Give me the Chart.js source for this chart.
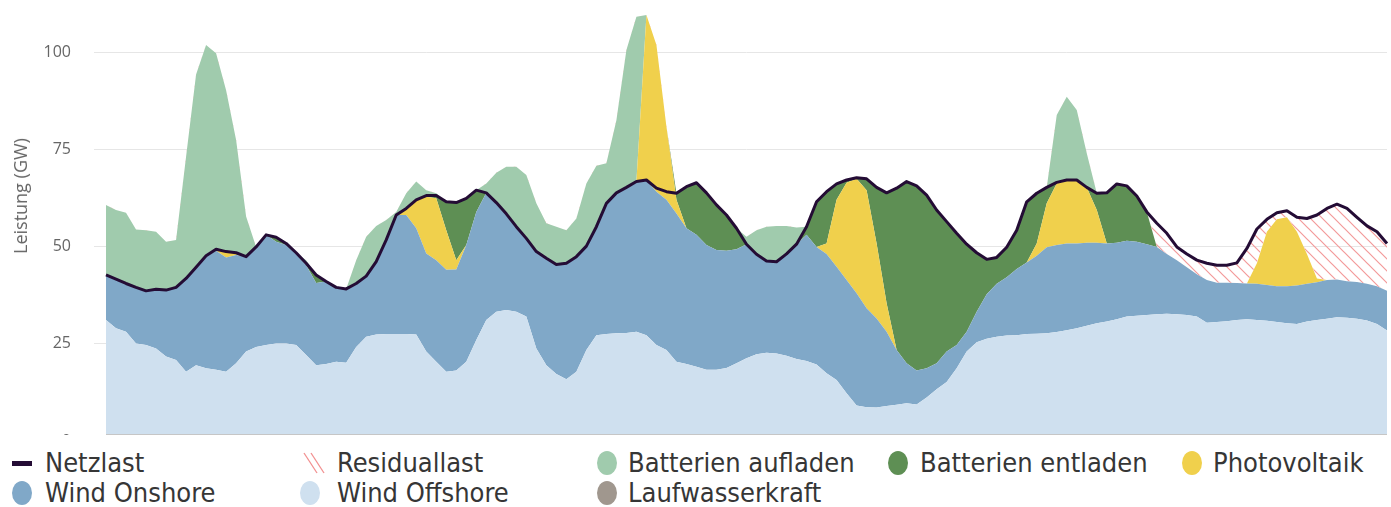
<!DOCTYPE html>
<html lang="de">
<head>
<meta charset="utf-8">
<title>Netzlast, Erzeugung und Batterien</title>
<script src="https://cdn.jsdelivr.net/npm/chart.js@4.4.1/dist/chart.umd.min.js"></script>
<style>
    html, body { margin: 0; padding: 0; background: #fff; }
    #wrap { position: relative; width: 1391px; height: 507px; overflow: hidden; background: #fff; }
    #chart-box { position: absolute; left: 0; top: 0; width: 1391px; height: 453px; }
    #y-title {
        position: absolute; left: 20px; top: 196px;
        transform: translate(-50%, -50%) rotate(-90deg);
        font: 18px "Open Sans", sans-serif; color: #666; white-space: nowrap;
    }
    #baseline { position: absolute; left: 106px; top: 434px; width: 1281px; height: 1px; background: #c6c6c6; }
    #legend {
        position: absolute; left: 0; top: 435px; width: 1391px; height: 72px; background: #fff;
        font-family: "DejaVu Sans Condensed", "DejaVu Sans", sans-serif; font-size: 27px; color: #363636;
    }
    .lg-text { position: absolute; line-height: 30px; white-space: nowrap; }
    .lg-icon { position: absolute; }
    .lg-dot { width: 20px; height: 24px; border-radius: 50%; }
</style>
</head>
<body>
<div id="wrap">
    <div id="chart-box"><canvas id="energie-chart" width="1391" height="453"></canvas></div>
    <div id="y-title">Leistung (GW)</div>
    <div id="baseline"></div>
    <div id="legend">
        <span class="lg-icon" style="left:12px; top:26px; width:20px; height:5px; background:#240c35;"></span>
        <span class="lg-text" style="left:45px; top:13px;">Netzlast</span>

        <svg class="lg-icon" style="left:302px; top:16px;" width="24" height="24" viewBox="0 0 24 24">
            <line x1="2" y1="2" x2="15" y2="22" stroke="#f29090" stroke-width="1.3"/>
            <line x1="9" y1="2" x2="22" y2="22" stroke="#f29090" stroke-width="1.3"/>
        </svg>
        <span class="lg-text" style="left:337px; top:13px;">Residuallast</span>

        <span class="lg-icon lg-dot" style="left:597px; top:16px; background:#a0cbad;"></span>
        <span class="lg-text" style="left:628px; top:13px;">Batterien aufladen</span>

        <span class="lg-icon lg-dot" style="left:888px; top:16px; background:#5e8f54;"></span>
        <span class="lg-text" style="left:920px; top:13px;">Batterien entladen</span>

        <span class="lg-icon lg-dot" style="left:1182px; top:16px; background:#f0d04c;"></span>
        <span class="lg-text" style="left:1213px; top:13px;">Photovoltaik</span>

        <span class="lg-icon lg-dot" style="left:12px; top:46px; background:#80a8c8;"></span>
        <span class="lg-text" style="left:45px; top:43px;">Wind Onshore</span>

        <span class="lg-icon lg-dot" style="left:300px; top:46px; background:#cfe0ef;"></span>
        <span class="lg-text" style="left:337px; top:43px;">Wind Offshore</span>

        <span class="lg-icon lg-dot" style="left:597px; top:46px; background:#a0978e;"></span>
        <span class="lg-text" style="left:628px; top:43px;">Laufwasserkraft</span>
    </div>
</div>

<script>
// Werte in GW (ein Wert pro Zeitschritt)
const windOffshore = [
    31.1, 29.0, 28.1, 25.1, 24.7, 23.8, 21.7, 20.8, 17.8, 19.5,
    18.7, 18.3, 17.8, 20.0, 23.0, 24.2, 24.7, 25.1, 25.1, 24.7,
    22.1, 19.5, 19.8, 20.4, 20.1, 24.2, 26.8, 27.4, 27.5, 27.5,
    27.5, 27.4, 23.0, 20.4, 17.8, 18.1, 20.4, 26.0, 31.1, 33.2,
    33.7, 33.2, 32.0, 23.8, 19.5, 17.2, 15.9, 17.8, 23.4, 27.2,
    27.5, 27.7, 27.8, 28.1, 27.2, 24.7, 23.4, 20.4, 19.8, 19.1,
    18.3, 18.3, 18.8, 20.0, 21.3, 22.3, 22.7, 22.5, 21.9, 21.1,
    20.6, 19.7, 17.4, 15.7, 12.3, 9.1, 8.7, 8.6, 9.0, 9.3,
    9.7, 9.4, 11.2, 13.3, 15.2, 18.7, 23.0, 25.4, 26.3, 26.8,
    27.1, 27.2, 27.5, 27.6, 27.7, 28.0, 28.5, 29.0, 29.6, 30.3,
    30.7, 31.3, 32.0, 32.2, 32.4, 32.6, 32.7, 32.6, 32.4, 32.0,
    30.4, 30.6, 30.8, 31.1, 31.3, 31.1, 30.9, 30.6, 30.3, 30.1,
    30.7, 31.1, 31.4, 31.8, 31.7, 31.4, 31.0, 30.1, 28.4
];

const windOnshore = [
    11.6, 12.6, 12.4, 14.4, 13.9, 15.2, 17.1, 18.7, 24.0, 25.2,
    28.9, 30.6, 29.4, 27.8, 24.4, 25.7, 28.3, 26.1, 25.3, 23.4,
    23.1, 21.1, 21.2, 19.1, 19.0, 16.3, 15.6, 18.7, 24.2, 30.6,
    30.6, 27.3, 25.2, 26.1, 26.2, 26.0, 30.0, 32.9, 32.7, 28.1,
    24.7, 21.9, 20.1, 24.9, 27.5, 28.2, 29.8, 29.6, 26.7, 27.9,
    33.6, 36.1, 37.4, 38.6, 39.9, 39.4, 38.6, 38.1, 34.9, 33.9,
    32.1, 30.8, 30.1, 29.3, 29.3, 25.7, 23.6, 23.6, 26.2, 29.5,
    32.4, 30.2, 30.7, 29.1, 29.1, 28.9, 25.4, 22.9, 19.1, 14.1,
    10.3, 8.7, 7.5, 6.7, 7.8, 6.0, 5.1, 7.8, 11.4, 13.6,
    15.0, 17.0, 18.4, 20.0, 22.1, 22.4, 22.3, 21.8, 21.4, 20.7,
    20.1, 19.7, 19.5, 19.0, 18.2, 17.3, 15.4, 13.9, 12.3, 10.9,
    11.0, 10.1, 9.9, 9.5, 9.2, 9.3, 9.2, 9.2, 9.5, 9.9,
    9.7, 9.7, 10.0, 9.7, 9.4, 9.5, 9.4, 9.7, 10.2
];

const photovoltaik = [
    0, 0, 0, 0, 0, 0, 0, 0, 0, 0,
    0, 0.4, 1.5, 0.6, 0, 0, 0, 0, 0, 0,
    0, 0, 0, 0, 0, 0, 0, 0, 0, 0,
    1.7, 7.3, 14.6, 15.9, 10.2, 2.4, 0, 0, 0, 0,
    0, 0, 0, 0, 0, 0, 0, 0, 0, 0,
    0, 0, 0, 0, 42.4, 37.7, 18.8, 3.5, 0, 0,
    0, 0, 0, 0, 0, 0, 0, 0, 0, 0,
    0, 0, 2.7, 17.2, 25.0, 29.4, 30.4, 19.3, 7.3, 0,
    0, 0, 0, 0, 0, 0, 0, 0, 0, 0,
    0, 0, 0, 3.2, 11.3, 15.8, 16.3, 16.3, 14.2, 8.4,
    0, 0, 0, 0, 0, 0, 0, 0, 0, 0,
    0, 0, 0, 0, 0, 5.3, 13.7, 17.2, 17.7, 13.8,
    7.7, 1.0, 0, 0, 0, 0, 0, 0, 0
];

const batterienEntladen = [
    0, 0, 0, 0, 0, 0, 0, 0, 0, 0,
    0, 0, 0, 0, 0, 0, 0, 1.2, 0.4, 0.3,
    0.5, 2.1, 0, 0, 0, 0, 0, 0, 0, 0,
    0, 0, 0.3, 0.7, 7.3, 14.8, 12.0, 5.6, 0, 0,
    0, 0, 0, 0, 0, 0, 0, 0, 0, 0,
    0, 0, 0, 0, 0, 0, 0, 1.7, 10.7, 13.4,
    13.4, 11.6, 9.2, 5.4, 0, 0, 0, 0, 0, 0,
    2.1, 11.6, 13.3, 4.1, 0.7, 0.3, 2.9, 14.4, 28.4, 41.6,
    46.7, 47.5, 44.5, 39.4, 33.4, 28.7, 22.5, 15.2, 9.0, 6.8,
    7.7, 10.0, 15.6, 12.9, 4.1, 0.3, 0, 0, 0, 4.3,
    13.0, 15.1, 14.1, 11.8, 8.3, 0, 0, 0, 0, 0,
    0, 0, 0, 0, 0, 0, 0, 0, 0, 0,
    0, 0, 0, 0, 0, 0, 0, 0, 0
];

const batterienAufladen = [
    18.0, 17.8, 18.2, 14.9, 15.6, 14.8, 12.4, 12.2, 31.3, 49.5,
    54.2, 50.4, 41.5, 29.0, 10.3, 0, 0, 0, 0, 0,
    0.8, 0, 0, 0, 0, 6.0, 10.1, 9.2, 5.1, 0.8,
    3.9, 4.7, 1.4, 0.6, 0, 0, 0, 0, 2.4, 7.7,
    12.1, 15.4, 16.3, 12.4, 9.0, 9.7, 8.5, 9.8, 16.1, 15.7,
    10.3, 18.7, 35.3, 42.4, 0, 0, 0, 0, 0, 0,
    0, 0, 0, 0, 1.9, 6.2, 8.8, 9.2, 7.2, 4.3,
    0, 0, 0, 0, 0, 0, 0, 0, 0, 0,
    0, 0, 0, 0, 0, 0, 0, 0, 0, 0,
    0, 0, 0, 0, 0, 17.3, 21.4, 18.0, 8.8, 0,
    0, 0, 0, 0, 0, 0, 0, 0, 0, 0,
    0, 0, 0, 0, 0, 0, 0, 0, 0, 0,
    0, 0, 0, 0, 0, 0, 0, 0, 0
];

const netzlast = [
    42.7, 41.6, 40.5, 39.5, 38.6, 39.0, 38.8, 39.5, 41.8, 44.7,
    47.6, 49.3, 48.7, 48.4, 47.4, 49.9, 53.0, 52.4, 50.8, 48.4,
    45.7, 42.7, 41.0, 39.5, 39.1, 40.5, 42.4, 46.1, 51.7, 58.1,
    59.8, 62.0, 63.1, 63.1, 61.5, 61.3, 62.4, 64.5, 63.8, 61.3,
    58.4, 55.1, 52.1, 48.7, 47.0, 45.4, 45.7, 47.4, 50.1, 55.1,
    61.1, 63.8, 65.2, 66.7, 67.1, 65.0, 64.1, 63.7, 65.4, 66.4,
    63.8, 60.7, 58.1, 54.7, 50.6, 48.0, 46.3, 46.1, 48.1, 50.6,
    55.1, 61.5, 64.1, 66.1, 67.1, 67.7, 67.4, 65.2, 63.8, 65.0,
    66.7, 65.6, 63.2, 59.4, 56.4, 53.4, 50.6, 48.4, 46.7, 47.2,
    49.8, 54.2, 61.5, 63.7, 65.2, 66.5, 67.1, 67.1, 65.2, 63.7,
    63.8, 66.1, 65.6, 63.0, 58.9, 56.0, 53.4, 49.9, 48.1, 46.5,
    45.7, 45.2, 45.2, 45.8, 49.5, 54.5, 57.0, 58.7, 59.2, 57.5,
    57.2, 58.1, 59.8, 60.9, 59.8, 57.5, 55.3, 53.8, 50.8
];

// Zeitschritte (keine Beschriftung sichtbar) und Y-Achsen-Ticks
const zeitpunkte = netzlast.map((_, i) => i);
const leistungTicks = [0, 25, 50, 75, 100];

const FARBEN = {
    netzlast: '#240c35',
    offshore: '#cfe0ef',
    onshore: '#80a8c8',
    pv: '#f0d04c',
    entladen: '#5e8f54',
    aufladen: '#a0cbad'
};

// Schraffur fuer die Residuallast
function makeHatch() {
    const c = document.createElement('canvas');
    c.width = 12;
    c.height = 12;
    const g = c.getContext('2d');
    g.strokeStyle = '#f39a9a';
    g.lineWidth = 1.2;
    g.beginPath();
    g.moveTo(0, 0); g.lineTo(12, 12);
    g.moveTo(11, -1); g.lineTo(13, 1);
    g.moveTo(-1, 11); g.lineTo(1, 13);
    g.stroke();
    return g.createPattern(c, 'repeat');
}

function area(label, data, color, fill) {
    return {
        label: label,
        data: data,
        backgroundColor: color,
        borderColor: 'rgba(0,0,0,0)',
        borderWidth: 0,
        pointRadius: 0,
        tension: 0,
        fill: fill,
        stack: 'erzeugung'
    };
}

function initChart() {
    const ctx = document.getElementById('energie-chart').getContext('2d');
    const hatch = makeHatch();

    new Chart(ctx, {
        type: 'line',
        data: {
            labels: zeitpunkte,
            datasets: [
                {
                    label: 'Netzlast',
                    data: netzlast,
                    borderColor: FARBEN.netzlast,
                    borderWidth: 3,
                    borderJoinStyle: 'round',
                    pointRadius: 0,
                    tension: 0,
                    fill: false,
                    stack: 'netz'
                },
                {
                    label: 'Residuallast',
                    data: netzlast,
                    borderColor: 'rgba(0,0,0,0)',
                    borderWidth: 0,
                    pointRadius: 0,
                    tension: 0,
                    backgroundColor: hatch,
                    fill: { target: 6, above: hatch, below: 'rgba(0,0,0,0)' },
                    stack: 'residual'
                },
                area('Wind Offshore', windOffshore, FARBEN.offshore, 'origin'),
                area('Wind Onshore', windOnshore, FARBEN.onshore, '-1'),
                area('Photovoltaik', photovoltaik, FARBEN.pv, '-1'),
                area('Batterien entladen', batterienEntladen, FARBEN.entladen, '-1'),
                area('Batterien aufladen', batterienAufladen, FARBEN.aufladen, '-1')
            ]
        },
        options: {
            responsive: false,
            animation: false,
            devicePixelRatio: 1,
            layout: {
                padding: { top: 5, bottom: 12, left: 0, right: 4 }
            },
            plugins: {
                legend: { display: false },
                tooltip: { enabled: false }
            },
            scales: {
                x: {
                    type: 'category',
                    display: false,
                    offset: false
                },
                y: {
                    stacked: true,
                    min: 0,
                    max: 112.1,
                    afterBuildTicks: (scale) => {
                        scale.ticks = leistungTicks.map(v => ({ value: v }));
                    },
                    afterFit: (scale) => {
                        scale.width = 106;
                        scale.paddingTop = 0;
                        scale.paddingBottom = 0;
                    },
                    border: { display: false },
                    grid: {
                        color: '#e6e6e6',
                        lineWidth: 1,
                        drawTicks: true,
                        tickLength: 12,
                        tickColor: '#e6e6e6'
                    },
                    ticks: {
                        padding: 23,
                        color: '#666',
                        font: { family: 'Open Sans', size: 16 }
                    }
                }
            }
        }
    });
}

window.addEventListener('DOMContentLoaded', () => {
    initChart();
});
</script>
</body>
</html>
